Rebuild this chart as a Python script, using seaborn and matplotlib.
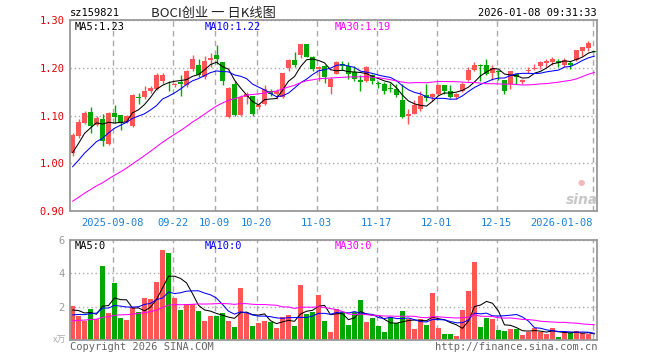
import numpy as np
import pandas as pd
import matplotlib
matplotlib.use("Agg")
import matplotlib.pyplot as plt
import seaborn as sns

# ---------------- data ----------------
open_ = [1.022, 1.057, 1.085, 1.107, 1.081, 1.092, 1.041, 1.106, 1.100, 1.087,
         1.078, 1.139, 1.138, 1.151, 1.156, 1.173, 1.167, 1.163, 1.170, 1.163,
         1.198, 1.206, 1.180, 1.217, 1.226, 1.212, 1.097, 1.165, 1.101, 1.138,
         1.140, 1.118, 1.124, 1.151, 1.144, 1.138, 1.199, 1.2155, 1.226, 1.249,
         1.2226, 1.1965, 1.203, 1.159, 1.187, 1.207, 1.203, 1.191, 1.174, 1.173,
         1.184, 1.168, 1.165, 1.158, 1.156, 1.132, 1.099, 1.104, 1.113, 1.143,
         1.139, 1.145, 1.163, 1.151, 1.139, 1.152, 1.175, 1.196, 1.205, 1.205,
         1.189, 1.194, 1.175, 1.166, 1.187, 1.170, 1.193, 1.197, 1.203, 1.209,
         1.212, 1.215, 1.205, 1.210, 1.216, 1.235, 1.242, 1.2355]
high = [1.063, 1.092, 1.109, 1.118, 1.099, 1.104, 1.107, 1.122, 1.101, 1.102,
        1.145, 1.148, 1.162, 1.162, 1.190, 1.189, 1.173, 1.168, 1.184, 1.196,
        1.226, 1.219, 1.224, 1.230, 1.247, 1.213, 1.160, 1.173, 1.142, 1.149,
        1.141, 1.127, 1.163, 1.156, 1.156, 1.190, 1.218, 1.233, 1.250, 1.250,
        1.224, 1.203, 1.205, 1.180, 1.214, 1.214, 1.212, 1.203, 1.184, 1.203,
        1.187, 1.173, 1.170, 1.168, 1.166, 1.166, 1.113, 1.132, 1.152, 1.166,
        1.148, 1.166, 1.163, 1.163, 1.148, 1.170, 1.201, 1.212, 1.207, 1.219,
        1.205, 1.196, 1.175, 1.194, 1.189, 1.177, 1.201, 1.208, 1.215, 1.219,
        1.222, 1.219, 1.221, 1.214, 1.237, 1.244, 1.256, 1.236]
low = [1.015, 1.053, 1.082, 1.064, 1.078, 1.036, 1.039, 1.085, 1.070, 1.084,
       1.076, 1.125, 1.135, 1.147, 1.153, 1.166, 1.152, 1.159, 1.141, 1.160,
       1.194, 1.180, 1.177, 1.201, 1.208, 1.163, 1.094, 1.100, 1.099, 1.124,
       1.099, 1.113, 1.122, 1.140, 1.134, 1.136, 1.194, 1.201, 1.221, 1.222,
       1.194, 1.173, 1.168, 1.145, 1.186, 1.196, 1.177, 1.173, 1.152, 1.170,
       1.166, 1.157, 1.145, 1.149, 1.138, 1.094, 1.083, 1.103, 1.110, 1.131,
       1.131, 1.142, 1.145, 1.137, 1.134, 1.150, 1.173, 1.194, 1.173, 1.184,
       1.175, 1.175, 1.145, 1.156, 1.167, 1.167, 1.189, 1.196, 1.198, 1.201,
       1.205, 1.201, 1.201, 1.198, 1.214, 1.224, 1.236, 1.232]
close = [1.060, 1.087, 1.105, 1.078, 1.094, 1.046, 1.106, 1.097, 1.084, 1.099,
         1.143, 1.137, 1.152, 1.158, 1.185, 1.184, 1.165, 1.166, 1.166, 1.194,
         1.219, 1.184, 1.215, 1.221, 1.219, 1.172, 1.158, 1.101, 1.139, 1.146,
         1.103, 1.122, 1.156, 1.146, 1.151, 1.189, 1.217, 1.205, 1.249, 1.223,
         1.198, 1.2014, 1.180, 1.177, 1.212, 1.203, 1.187, 1.177, 1.171, 1.201,
         1.173, 1.165, 1.152, 1.156, 1.143, 1.097, 1.104, 1.122, 1.140, 1.136,
         1.146, 1.163, 1.151, 1.139, 1.146, 1.165, 1.196, 1.205, 1.203, 1.187,
         1.200, 1.192, 1.152, 1.193, 1.180, 1.175, 1.196, 1.199, 1.212, 1.215,
         1.219, 1.209, 1.217, 1.205, 1.237, 1.244, 1.251, 1.234]
volume = [2.04, 1.44, 1.16, 1.86, 1.24, 4.44, 1.64, 3.44, 1.34, 1.20,
          1.96, 1.70, 2.54, 2.46, 3.50, 5.40, 5.24, 2.54, 1.80, 2.16,
          2.16, 1.74, 1.16, 1.44, 1.46, 1.64, 1.16, 0.80, 3.14, 1.64,
          0.86, 1.04, 1.16, 1.10, 0.74, 1.40, 1.50, 0.86, 3.30, 1.56,
          1.68, 2.70, 1.16, 0.50, 1.84, 1.70, 0.90, 1.70, 2.40, 1.10,
          1.34, 0.84, 0.50, 1.36, 1.00, 1.74, 1.24, 0.66, 1.24, 0.90,
          2.84, 0.74, 0.36, 0.36, 0.24, 1.80, 2.94, 4.70, 0.80, 1.34,
          1.24, 0.60, 0.56, 0.66, 0.66, 0.30, 0.50, 0.70, 0.50, 0.36,
          0.70, 0.20, 0.50, 0.40, 0.54, 0.40, 0.36, 0.08]
# sessions before the visible window, estimated from where the MA lines start
prehistory_close = [0.84, 0.845, 0.85, 0.855, 0.86, 0.86, 0.865, 0.87, 0.87, 0.875,
                    0.88, 0.885, 0.89, 0.90, 0.905, 0.91, 0.92,
                    0.93, 0.935, 0.94, 0.95, 0.955, 0.96, 0.97,
                    0.98, 0.99, 1.00, 1.02, 1.04]
prehistory_volume = [0.6, 0.7, 0.8, 0.7, 0.9, 0.7, 0.8, 0.6, 0.9, 0.8, 0.7, 0.9,
                     0.8, 0.8, 0.7, 0.9, 1.6, 2.0, 1.9, 1.7, 1.1, 1.3, 1.2, 1.0,
                     1.4, 1.6, 1.9, 1.7, 1.76]
tick_idx = [7, 17, 24, 31, 41, 51, 61, 71, 87]
tick_labels = ["2025-09-08", "09-22", "10-09", "10-20", "11-03", "11-17",
               "12-01", "12-15", "2026-01-08"]
price_ticks = [0.90, 1.00, 1.10, 1.20, 1.30]
vol_ticks = [2, 4, 6]

# ---------------- style ----------------
sns.set_style("white")
plt.rcParams["font.family"] = ["DejaVu Sans Mono", "Noto Sans CJK SC"]

RED, GREEN = "#ff5555", "#00a800"
GRID = "#aaaaaa"
W, H = 660, 360

def box(l, t, r, b):
    return [l / W, 1 - b / H, (r - l) / W, (b - t) / H]

def fx(x):
    return x / W

def fy(y):
    return 1 - y / H

fig = plt.figure(figsize=(6.6, 3.6), dpi=100)
ax = fig.add_axes(box(70, 20, 597, 211))
axv = fig.add_axes(box(70, 240, 597, 340))

o = np.array(open_); h = np.array(high); l = np.array(low); c = np.array(close)
v = np.array(volume)
n = len(c)
idx = np.arange(n)
colors = np.where(c > o, RED, GREEN)

full_c = pd.Series(list(prehistory_close) + list(close))
full_v = pd.Series(list(prehistory_volume) + list(volume))
k = len(prehistory_close)
ma = {p: full_c.rolling(p).mean().values[k:] for p in (5, 10, 30)}
k2 = len(prehistory_volume)
mav = {p: full_v.rolling(p).mean().values[k2:] for p in (5, 10, 30)}

# ---------------- candles ----------------
ax.vlines(idx, l, h, colors=colors, linewidth=1, zorder=1)
ax.bar(idx, np.maximum(np.abs(c - o), 0.0014), bottom=np.minimum(o, c),
       width=0.8, color=colors, linewidth=0, zorder=1)
line_cols = {5: "black", 10: "#0000ff", 30: "#ff00ff"}
for p in (5, 10, 30):
    sns.lineplot(x=idx, y=ma[p], ax=ax, color=line_cols[p], linewidth=0.75, legend=False)
    sns.lineplot(x=idx, y=mav[p], ax=axv, color=line_cols[p], linewidth=0.75, legend=False)

axv.bar(idx, v, width=0.8, color=colors, linewidth=0, zorder=1)

# ---------------- axes ----------------
grid_pos = [t - 0.33 for t in tick_idx]
for a in (ax, axv):
    a.set_xlim(-0.42, 87.42)
    a.set_xticks(grid_pos)
    a.grid(axis="x", color=GRID, linestyle=(0, (4, 3)), linewidth=1)
    a.grid(axis="y", color=GRID, linestyle=(0, (1, 2)), linewidth=1)
    for s in a.spines.values():
        s.set_color("#999999")
        s.set_linewidth(1.3)
    a.set_xlabel(""); a.set_ylabel("")

ax.set_ylim(0.90, 1.30)
ax.set_yticks(price_ticks)
ax.set_yticklabels([f"{t:.2f}" for t in price_ticks])
ax.tick_params(axis="y", length=0, pad=4, labelcolor="#e00000", labelsize=7.5)
ax.set_xticklabels(tick_labels)
ax.tick_params(axis="x", length=0, pad=5, labelcolor="#1a80d8", labelsize=7.5)
ax.get_xticklabels()[-1].set_ha("right")

axv.set_ylim(0, 6)
axv.set_yticks(vol_ticks)
axv.set_yticklabels([str(t) for t in vol_ticks])
axv.tick_params(axis="y", length=0, pad=4, labelcolor="#999999", labelsize=7.5)
axv.set_xticklabels([])
axv.tick_params(axis="x", length=0)

# ---------------- texts ----------------
fs = 7.5
fig.text(fx(70), fy(13), "sz159821", fontsize=fs, va="center", ha="left", color="black")
fig.text(fx(213), fy(13), "BOCI创业 一 日K线图", fontsize=9.5, va="center", ha="center",
         color="#222222", family=["Noto Sans CJK SC", "DejaVu Sans"])
fig.text(fx(597), fy(13), "2026-01-08 09:31:33", fontsize=fs, va="center", ha="right", color="black")

fig.text(fx(75), fy(27), f"MA5:{ma[5][-1]:.2f}", fontsize=fs, va="center", color="black")
fig.text(fx(205), fy(27), f"MA10:{ma[10][-1]:.2f}", fontsize=fs, va="center", color="#0000ff")
fig.text(fx(335), fy(27), f"MA30:{ma[30][-1]:.2f}", fontsize=fs, va="center", color="#ff00ff")

fig.text(fx(75), fy(246), "MA5:0", fontsize=fs, va="center", color="black")
fig.text(fx(205), fy(246), "MA10:0", fontsize=fs, va="center", color="#0000ff")
fig.text(fx(335), fy(246), "MA30:0", fontsize=fs, va="center", color="#ff00ff")

fig.text(fx(66), fy(340), "x万", fontsize=6.5, va="center", ha="right", color="#aaaaaa",
         family=["Noto Sans CJK SC", "DejaVu Sans"])
fig.text(fx(70), fy(347), "Copyright 2026 SINA.COM", fontsize=fs, va="center", ha="left", color="#666666")
fig.text(fx(597), fy(347), "http://finance.sina.com.cn", fontsize=fs, va="center", ha="right", color="#666666")

fig.text(fx(598), fy(200), "sina", fontsize=10, va="center", ha="right", color="#c8c8c8",
         style="italic", weight="bold", family="DejaVu Sans")
fig.text(fx(581), fy(183), "●", fontsize=6, va="center", ha="center", color="#f4b8b8",
         family="DejaVu Sans")

fig.savefig("out.png", dpi=100)
